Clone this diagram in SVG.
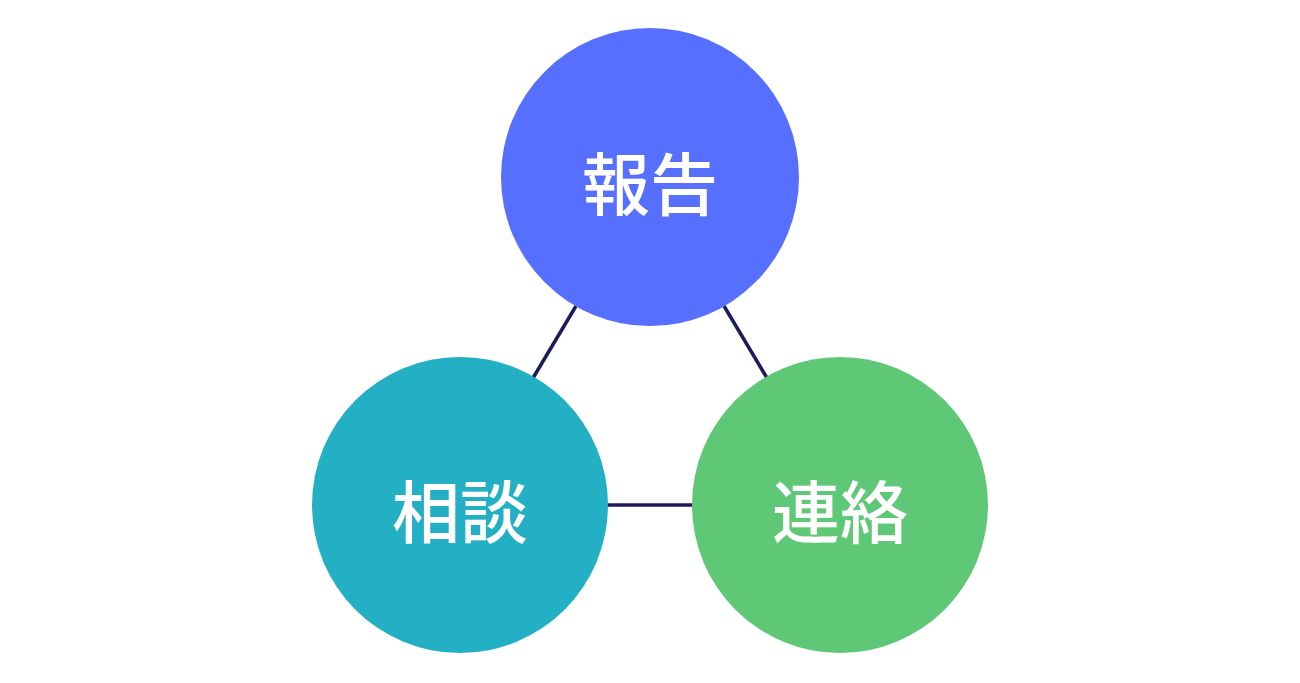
<svg xmlns="http://www.w3.org/2000/svg" width="1300" height="683" viewBox="0 0 1300 683">
<style>
.lbl{font-family:"Noto Sans CJK JP","Noto Sans CJK SC",sans-serif;font-size:68px;font-weight:500;fill:#ffffff;text-anchor:middle;dominant-baseline:central}
.ln{stroke:#1c1c5c;stroke-width:3.5}
</style>
<rect width="1300" height="683" fill="#ffffff"/>
<g id="connectors">
<line class="ln" x1="576" y1="306" x2="533" y2="378"/>
<line class="ln" x1="724" y1="306" x2="767" y2="378"/>
<line class="ln" x1="606" y1="505" x2="694" y2="505"/>
</g>
<g id="houkoku"><circle cx="650" cy="177" r="149" fill="#566ffe"/><text class="lbl" x="650" y="180">報告</text></g>
<g id="soudan"><circle cx="460" cy="505" r="148" fill="#23afc4"/><text class="lbl" x="460" y="508">相談</text></g>
<g id="renraku"><circle cx="840" cy="505" r="148" fill="#5ec877"/><text class="lbl" x="840" y="508">連絡</text></g>
</svg>
